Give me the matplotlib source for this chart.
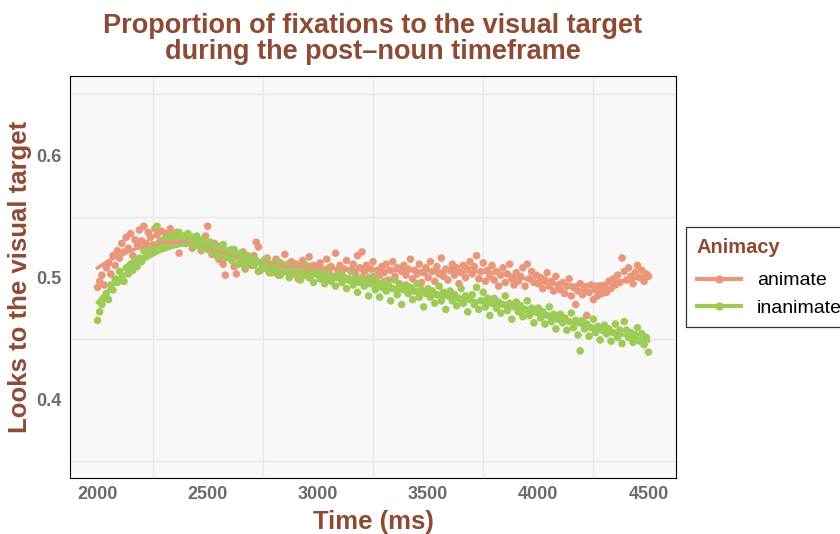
import numpy as np
import matplotlib
matplotlib.use("Agg")
import matplotlib.pyplot as plt
from matplotlib.lines import Line2D
from matplotlib.ticker import MultipleLocator

# time bins (ms), one every 10 ms
time_ms = list(range(2000, 4510, 10))

animate = [
    0.492, 0.497, 0.502, 0.494, 0.508, 0.512, 0.503, 0.518, 0.510, 0.522,
    0.516, 0.528, 0.521, 0.533, 0.524, 0.536, 0.518, 0.531, 0.527, 0.539,
    0.530, 0.542, 0.528, 0.537, 0.533, 0.526, 0.540, 0.535, 0.529, 0.538,
    0.531, 0.536, 0.527, 0.540, 0.533, 0.529, 0.537, 0.520, 0.534, 0.531,
    0.528, 0.535, 0.530, 0.524, 0.533, 0.527, 0.531, 0.522, 0.529, 0.534,
    0.542, 0.524, 0.519, 0.528, 0.521, 0.515, 0.526, 0.511, 0.502, 0.520,
    0.517, 0.523, 0.509, 0.503, 0.518, 0.512, 0.521, 0.507, 0.515, 0.514,
    0.510, 0.518, 0.529, 0.525, 0.506, 0.513, 0.509, 0.516, 0.504, 0.511,
    0.508, 0.515, 0.502, 0.512, 0.506, 0.519, 0.510, 0.503, 0.513, 0.507,
    0.511, 0.499, 0.509, 0.514, 0.504, 0.508, 0.517, 0.502, 0.510, 0.506,
    0.503, 0.512, 0.507, 0.498, 0.515, 0.505, 0.509, 0.501, 0.520, 0.506,
    0.510, 0.502, 0.507, 0.514, 0.499, 0.506, 0.511, 0.503, 0.518, 0.508,
    0.521, 0.505, 0.510, 0.500, 0.507, 0.513, 0.497, 0.506, 0.502, 0.509,
    0.504, 0.511, 0.498, 0.506, 0.513, 0.501, 0.508, 0.495, 0.505, 0.510,
    0.502, 0.507, 0.515, 0.499, 0.506, 0.503, 0.511, 0.496, 0.504, 0.508,
    0.500, 0.513, 0.505, 0.497, 0.509, 0.503, 0.516, 0.501, 0.507, 0.498,
    0.506, 0.511, 0.502, 0.508, 0.495, 0.504, 0.510, 0.500, 0.507, 0.513,
    0.503, 0.509, 0.518, 0.499, 0.505, 0.512, 0.497, 0.506, 0.501, 0.510,
    0.498, 0.505, 0.493, 0.502, 0.508, 0.496, 0.503, 0.511, 0.499, 0.494,
    0.504, 0.497, 0.501, 0.508, 0.493, 0.511, 0.499, 0.505, 0.496, 0.502,
    0.495, 0.500, 0.491, 0.498, 0.504, 0.493, 0.497, 0.489, 0.501, 0.494,
    0.490, 0.496, 0.487, 0.493, 0.499, 0.485, 0.492, 0.478, 0.489, 0.495,
    0.486, 0.491, 0.469, 0.488, 0.494, 0.482, 0.490, 0.485, 0.492, 0.487,
    0.493, 0.488, 0.497, 0.491, 0.499, 0.494, 0.502, 0.496, 0.516, 0.505,
    0.498, 0.508, 0.501, 0.495, 0.504, 0.510, 0.500, 0.506, 0.497, 0.503,
    0.501,
]

inanimate = [
    0.465, 0.472, 0.478, 0.483, 0.487, 0.482, 0.494, 0.490, 0.499, 0.496,
    0.505, 0.500, 0.497, 0.508, 0.503, 0.511, 0.506, 0.514, 0.509, 0.516,
    0.513, 0.522, 0.517, 0.524, 0.519, 0.527, 0.521, 0.542, 0.526, 0.530,
    0.524, 0.532, 0.528, 0.535, 0.527, 0.533, 0.529, 0.537, 0.531, 0.534,
    0.528, 0.536, 0.530, 0.533, 0.526, 0.534, 0.529, 0.524, 0.531, 0.527,
    0.523, 0.529, 0.521, 0.526, 0.518, 0.524, 0.520, 0.527, 0.516, 0.522,
    0.519, 0.514, 0.523, 0.517, 0.511, 0.520, 0.515, 0.509, 0.518, 0.513,
    0.516, 0.510, 0.514, 0.505, 0.512, 0.508, 0.515, 0.507, 0.511, 0.504,
    0.510, 0.506, 0.513, 0.502, 0.508, 0.505, 0.511, 0.500, 0.507, 0.503,
    0.509, 0.504, 0.498, 0.507, 0.502, 0.510, 0.500, 0.505, 0.496, 0.503,
    0.507, 0.499, 0.504, 0.495, 0.502, 0.508, 0.497, 0.501, 0.493, 0.500,
    0.504, 0.496, 0.500, 0.491, 0.498, 0.505, 0.494, 0.499, 0.488, 0.496,
    0.500, 0.493, 0.497, 0.485, 0.495, 0.501, 0.490, 0.496, 0.484, 0.492,
    0.497, 0.489, 0.494, 0.481, 0.491, 0.498, 0.486, 0.493, 0.478, 0.490,
    0.494, 0.487, 0.492, 0.482, 0.489, 0.495, 0.484, 0.490, 0.476, 0.487,
    0.491, 0.484, 0.489, 0.479, 0.486, 0.493, 0.481, 0.488, 0.474, 0.485,
    0.489, 0.481, 0.486, 0.477, 0.483, 0.491, 0.479, 0.485, 0.472, 0.482,
    0.486, 0.478, 0.492, 0.474, 0.481, 0.488, 0.476, 0.483, 0.469, 0.479,
    0.483, 0.475, 0.480, 0.471, 0.478, 0.485, 0.473, 0.479, 0.466, 0.476,
    0.480, 0.472, 0.477, 0.468, 0.474, 0.481, 0.469, 0.475, 0.463, 0.472,
    0.475, 0.467, 0.472, 0.462, 0.469, 0.476, 0.464, 0.470, 0.458, 0.466,
    0.470, 0.463, 0.467, 0.457, 0.464, 0.471, 0.459, 0.465, 0.453, 0.440,
    0.465, 0.458, 0.462, 0.452, 0.459, 0.466, 0.455, 0.460, 0.449, 0.457,
    0.461, 0.454, 0.458, 0.448, 0.455, 0.462, 0.451, 0.457, 0.446, 0.464,
    0.457, 0.451, 0.455, 0.447, 0.453, 0.459, 0.448, 0.454, 0.445, 0.451,
    0.439,
]

series_names = ["animate", "inanimate"]
colors = ["#EA967B", "#9DCB56"]
brown = "#8E4B34"


def loess(x, y, span=0.75):
    # local quadratic fit with tricube weights (like R's loess)
    x = np.asarray(x, float)
    y = np.asarray(y, float)
    k = int(np.ceil(span * len(x)))
    fit = []
    for x0 in x:
        d = np.abs(x - x0)
        h = np.sort(d)[k - 1]
        w = np.clip(1 - (d / h) ** 3, 0, None) ** 3
        c = np.polyfit(x - x0, y, 2, w=np.sqrt(w))
        fit.append(c[-1])
    return np.array(fit)


plt.rcParams["font.family"] = "Liberation Sans"

fig = plt.figure(figsize=(8.4, 5.34), dpi=100)
ax = fig.add_axes([0.0833, 0.1049, 0.7215, 0.7528])
ax.set_facecolor("#F8F8F8")

for name, vals, col in zip(series_names, [animate, inanimate], colors):
    ax.scatter(time_ms, vals, s=30, color=col, edgecolors="none", zorder=2)
for name, vals, col in zip(series_names, [animate, inanimate], colors):
    ax.plot(time_ms, loess(time_ms, vals, 0.45), color=col, lw=2.6, zorder=3)

ax.set_xlim(1875, 4625)
ax.set_ylim(0.336, 0.665)
ax.xaxis.set_major_locator(MultipleLocator(500))
ax.xaxis.set_minor_locator(MultipleLocator(500, offset=250))
ax.yaxis.set_minor_locator(MultipleLocator(0.1, offset=0.05))
ax.grid(which="minor", color="#E8E8E8", lw=0.9)
ax.grid(which="major", visible=False)
ax.set_axisbelow(True)
ax.tick_params(which="both", length=0)
ax.tick_params(axis="both", labelsize=13, labelcolor="#6B6B6B", pad=6)
ax.set_yticks([0.4, 0.5, 0.6])
ax.set_yticklabels(["0.4", "0.5", "0.6"])
for lab in ax.get_xticklabels() + ax.get_yticklabels():
    lab.set_fontweight("bold")
for sp in ax.spines.values():
    sp.set_color("black")
    sp.set_linewidth(0.8)

ax.set_xlabel("Time (ms)", fontsize=18.5, fontweight="bold", color=brown, labelpad=5)
ax.set_ylabel("Looks to the visual target", fontsize=18.5, fontweight="bold", color=brown, labelpad=3)
ax.set_title("Proportion of fixations to the visual target\nduring the post\u2013noun timeframe",
             fontsize=19.5, fontweight="bold", color=brown, pad=12, linespacing=1.0)

handles = [Line2D([], [], color=c, lw=3, marker="o", markersize=5) for c in colors]
leg = fig.legend(handles, series_names, title="Animacy", loc="center left",
                 bbox_to_anchor=(0.8167, 0.481), fontsize=14, frameon=True,
                 fancybox=False, edgecolor="black", handlelength=2.3,
                 handletextpad=0.8,
                 title_fontproperties={"weight": "bold", "size": 14.5},
                 borderpad=0.55, borderaxespad=0, labelspacing=0.5)
leg.get_title().set_color(brown)
leg._legend_box.align = "left"
leg._legend_box.sep = 11
leg.get_frame().set_linewidth(0.9)

fig.savefig("out.png", dpi=100)
